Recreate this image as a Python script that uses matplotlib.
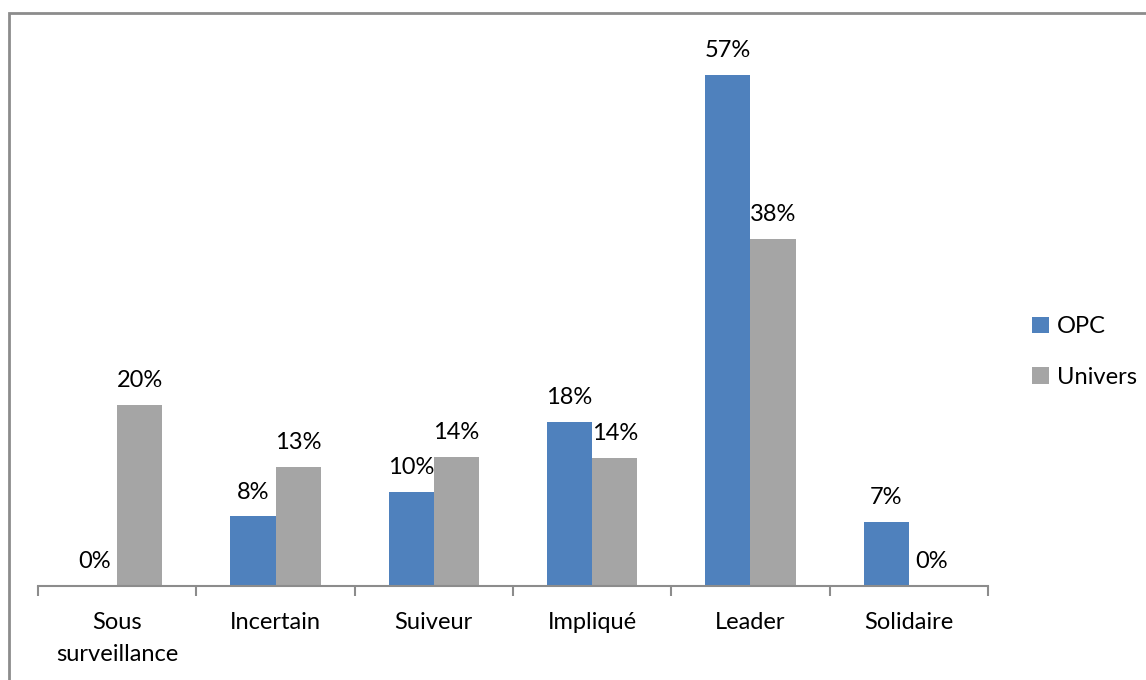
import numpy as np
import matplotlib.pyplot as plt
from matplotlib.patches import Rectangle

categories = ["Sous\nsurveillance", "Incertain", "Suiveur", "Impliqué", "Leader", "Solidaire"]
opc = [0.0, 7.7, 10.4, 18.2, 56.6, 7.1]
univers = [20.0, 13.2, 14.3, 14.2, 38.4, 0.0]
opc_labels = ["0%", "8%", "10%", "18%", "57%", "7%"]
univers_labels = ["20%", "13%", "14%", "14%", "38%", "0%"]

blue = "#4F81BD"
gray = "#A5A5A5"

plt.rcParams['font.family'] = ['Lato', 'DejaVu Sans']

W, H = 1146, 680
fig = plt.figure(figsize=(W / 100, H / 100), dpi=100)

# outer chart border (only top/left visible in the crop)
fig.patches.append(Rectangle((9 / W, -0.1), 1.2, 1 - 13 / H + 0.1, transform=fig.transFigure,
                             fill=False, edgecolor="#8c8c8c", linewidth=2))

left, right, bottom, top = 38, 988, 586, 44
ax = fig.add_axes([left / W, 1 - bottom / H, (right - left) / W, (bottom - top) / H])

x = np.arange(len(categories))
bw = 0.285
b1 = ax.bar(x - bw / 2, opc, bw, color=blue, label="OPC")
b2 = ax.bar(x + bw / 2, univers, bw, color=gray, label="Univers")

fs = 17
for bars, labels in [(b1, opc_labels), (b2, univers_labels)]:
    for rect, lab in zip(bars, labels):
        ax.annotate(lab, (rect.get_x() + rect.get_width() / 2, rect.get_height()),
                    xytext=(0, 10), textcoords="offset points", ha="center", va="bottom", fontsize=fs)

ax.set_xlim(-0.5, len(categories) - 0.5)
ax.set_ylim(0, 60)
ax.set_yticks([])
for s in ["top", "right", "left"]:
    ax.spines[s].set_visible(False)
ax.spines["bottom"].set_color("#8c8c8c")
ax.spines["bottom"].set_linewidth(1.5)

ax.set_xticks(np.arange(-0.5, len(categories), 1.0))
ax.set_xticklabels([])
ax.tick_params(axis="x", length=7, width=1.5, color="#8c8c8c")
ax.set_xticks(x, minor=True)
ax.set_xticklabels(categories, minor=True, fontsize=fs, linespacing=1.6)
ax.tick_params(axis="x", which="minor", length=0, pad=19)

ax.legend(loc="center left", bbox_to_anchor=(1011 / W, 1 - 352 / H), bbox_transform=fig.transFigure,
          frameon=False, fontsize=fs, handlelength=0.7, handleheight=0.7, labelspacing=1.25,
          handletextpad=0.35)

fig.savefig("out.png", dpi=100)
